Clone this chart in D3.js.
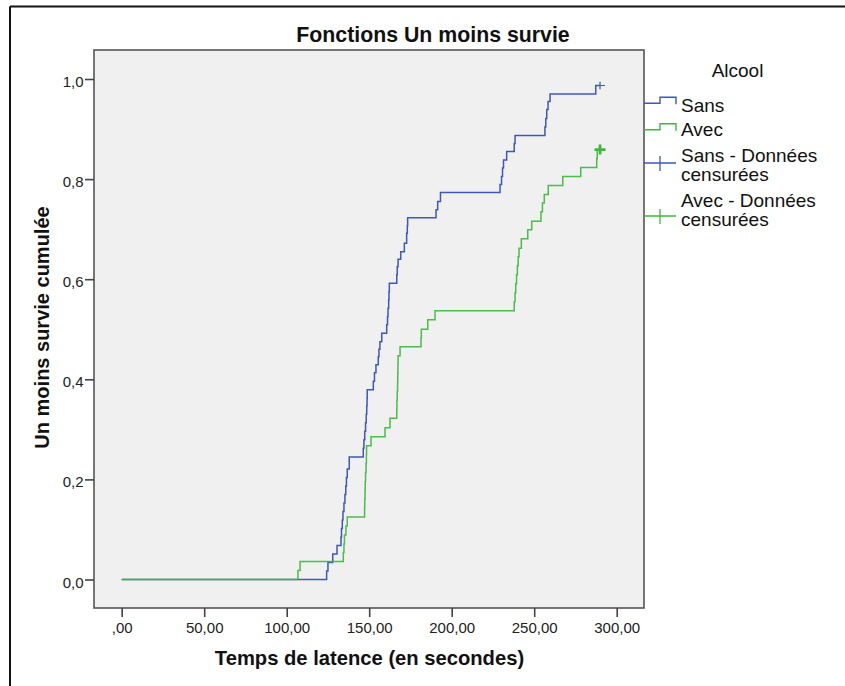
<!DOCTYPE html>
<html>
<head>
<meta charset="utf-8">
<script src="https://cdn.jsdelivr.net/npm/d3@7"></script>
<style>
  html, body { margin: 0; padding: 0; background: #fff; }
  svg { display: block; font-family: Arial, "Liberation Sans", sans-serif; }
</style>
</head>
<body>
<svg id="chart" width="845" height="686"></svg>
<script>
// ---- Data ----
const categories = ["Sans", "Avec"];
const seriesColors = ["#3d58b8", "#3cb83c"];

const sansTimes  = [124.2,125.0,127.9,130.5,132.9,133.2,133.7,134.1,134.7,135.3,135.8,136.2,136.7,137.9,
                    146.4,146.8,147.3,147.8,148.2,148.5,148.7,148.8,152.5,153.2,154.1,155.5,155.9,156.5,157.6,
                    160.6,161.1,161.4,161.8,162.0,162.2,166.7,167.0,167.5,169.1,171.3,172.7,173.1,173.3,
                    190.5,191.5,193.2,229.3,230.2,230.8,231.4,233.3,237.9,238.4,256.5,257.0,257.6,258.4,259.6,287.3];
const sansValues = [0.017,0.034,0.051,0.068,0.085,0.102,0.119,0.136,0.153,0.170,0.187,0.204,0.221,0.245,
                    0.262,0.279,0.296,0.313,0.330,0.347,0.362,0.379,0.396,0.413,0.429,0.445,0.460,0.475,0.492,
                    0.509,0.525,0.542,0.559,0.575,0.592,0.609,0.625,0.640,0.655,0.672,0.692,0.707,0.723,
                    0.739,0.755,0.773,0.789,0.805,0.822,0.838,0.855,0.871,0.887,0.904,0.921,0.939,0.955,0.970,0.987];

const avecTimes  = [106.8,108.1,134.3,134.7,135.0,135.9,136.7,147.2,147.3,147.5,147.6,147.8,148.1,148.3,148.4,
                    151.1,159.6,162.6,166.7,166.8,167.0,167.2,167.3,167.4,167.5,168.7,181.4,181.6,185.5,189.9,
                    237.9,238.4,238.8,239.3,239.8,240.3,240.8,242.2,246.1,248.5,254.1,255.0,256.1,258.5,
                    267.3,278.2,287.9,288.2];
const avecValues = [0.018,0.036,0.054,0.071,0.089,0.107,0.125,0.143,0.161,0.179,0.196,0.214,0.232,0.250,0.267,
                    0.285,0.303,0.322,0.340,0.358,0.376,0.394,0.412,0.430,0.447,0.465,0.483,0.500,0.519,0.537,
                    0.555,0.573,0.591,0.609,0.627,0.645,0.662,0.681,0.699,0.716,0.735,0.752,0.769,0.787,
                    0.805,0.823,0.841,0.859];

const censorTimes  = [289.9, 289.9];   // Sans, Avec
const censorValues = [0.987, 0.859];

const xTicks = [0, 50, 100, 150, 200, 250, 300];
const xTickLabels = [",00", "50,00", "100,00", "150,00", "200,00", "250,00", "300,00"];
const yTicks = [0, 0.2, 0.4, 0.6, 0.8, 1.0];
const yTickLabels = ["0,0", "0,2", "0,4", "0,6", "0,8", "1,0"];

const legendTitle = "Alcool";
const legendLabels = [["Sans"], ["Avec"], ["Sans - Données", "censurées"], ["Avec - Données", "censurées"]];

const chartTitle = "Fonctions Un moins survie";
const xTitle = "Temps de latence (en secondes)";
const yTitle = "Un moins survie cumulée";

// ---- Layout ----
const svg = d3.select("#chart");
const plot = { left: 94, top: 50, right: 644, bottom: 608 };

const x = d3.scaleLinear().domain([0, 300]).range([121.7, 616.7]);
const y = d3.scaleLinear().domain([0, 1]).range([579.5, 79]);

// outer frame (top and left edges visible)
svg.append("line").attr("x1", 10).attr("x2", 845).attr("y1", 6.5).attr("y2", 6.5)
  .attr("stroke", "#111").attr("stroke-width", 2);
svg.append("line").attr("x1", 10).attr("x2", 10).attr("y1", 6.5).attr("y2", 686)
  .attr("stroke", "#111").attr("stroke-width", 2);

// plot background
svg.append("rect")
  .attr("x", plot.left).attr("y", plot.top)
  .attr("width", plot.right - plot.left).attr("height", plot.bottom - plot.top)
  .attr("fill", "#f0f0f0").attr("stroke", "#555").attr("stroke-width", 1.6);

// axes
const xAxis = d3.axisBottom(x).tickValues(xTicks)
  .tickFormat((d, i) => xTickLabels[i]).tickSize(9).tickSizeOuter(0);
const gx = svg.append("g").attr("transform", `translate(0,${plot.bottom})`).call(xAxis);
gx.select(".domain").remove();
gx.selectAll(".tick line").attr("stroke", "#444").attr("stroke-width", 1.6);
gx.selectAll(".tick text").attr("fill", "#222").attr("font-size", 15)
  .attr("font-family", "Arial, 'Liberation Sans', sans-serif").attr("dy", "0.95em").attr("y", 11);

const yAxis = d3.axisLeft(y).tickValues(yTicks)
  .tickFormat((d, i) => yTickLabels[i]).tickSize(9).tickSizeOuter(0);
const gy = svg.append("g").attr("transform", `translate(${plot.left},0)`).call(yAxis);
gy.select(".domain").remove();
gy.selectAll(".tick line").attr("stroke", "#444").attr("stroke-width", 1.6);
gy.selectAll(".tick text").attr("fill", "#222").attr("font-size", 15)
  .attr("font-family", "Arial, 'Liberation Sans', sans-serif").attr("x", -10.5).attr("dy", "0.5em");

// step curves
const seriesTimes = [sansTimes, avecTimes];
const seriesValues = [sansValues, avecValues];
const line = d3.line().x(d => x(d[0])).y(d => y(d[1])).curve(d3.curveStepAfter);

categories.forEach((cat, i) => {
  const pts = [[0, 0]];
  seriesTimes[i].forEach((t, j) => pts.push([t, seriesValues[i][j]]));
  pts.push([censorTimes[i], censorValues[i]]);
  svg.append("path").datum(pts)
    .attr("d", line).attr("fill", "none")
    .attr("stroke", seriesColors[i]).attr("stroke-width", 1.5)
    .attr("stroke-opacity", i === 1 ? 0.92 : 1);
});

// censor marks
const censorSize = [[5, 3.8, 1.2], [5.5, 5, 2.8]];
categories.forEach((cat, i) => {
  const cx = x(censorTimes[i]), cy = y(censorValues[i]);
  const [hw, hh, sw] = censorSize[i];
  svg.append("path")
    .attr("d", `M${cx - hw},${cy}H${cx + hw}M${cx},${cy - hh}V${cy + hh}`)
    .attr("stroke", seriesColors[i]).attr("stroke-width", sw).attr("fill", "none");
});

// title
svg.append("text").attr("x", 433).attr("y", 42).attr("text-anchor", "middle")
  .attr("font-size", 21.3).attr("font-weight", "bold").attr("fill", "#111").text(chartTitle);

// axis titles
svg.append("text").attr("x", 369.5).attr("y", 665).attr("text-anchor", "middle")
  .attr("font-size", 20.2).attr("font-weight", "bold").attr("fill", "#111").text(xTitle);
svg.append("text").attr("transform", "translate(49,327.5) rotate(-90)").attr("text-anchor", "middle")
  .attr("font-size", 20).attr("font-weight", "bold").attr("fill", "#111").text(yTitle);

// legend
const lg = svg.append("g").attr("font-size", 19).attr("fill", "#111");
lg.append("text").attr("x", 737.5).attr("y", 77).attr("text-anchor", "middle").text(legendTitle);

// step glyphs
const stepY = [103.3, 129.8];
[0, 1].forEach(i => {
  const yl = stepY[i];
  lg.append("path")
    .attr("d", `M644,${yl}H660V${yl - 6}H676V${yl + 1}`)
    .attr("fill", "none").attr("stroke", seriesColors[i]).attr("stroke-width", 1.4);
});
// censor glyphs
const censY = [163, 216];
[0, 1].forEach(i => {
  const yl = censY[i];
  lg.append("path")
    .attr("d", `M644,${yl}H676M660,${yl - 7}V${yl + 8}`)
    .attr("fill", "none").attr("stroke", seriesColors[i]).attr("stroke-width", 1.3);
});

const labelBaselines = [[112], [135.5], [161.5, 181], [206.5, 226]];
legendLabels.forEach((lines, i) => {
  lines.forEach((txt, k) => {
    lg.append("text").attr("x", 681).attr("y", labelBaselines[i][k]).text(txt);
  });
});
</script>
</body>
</html>
